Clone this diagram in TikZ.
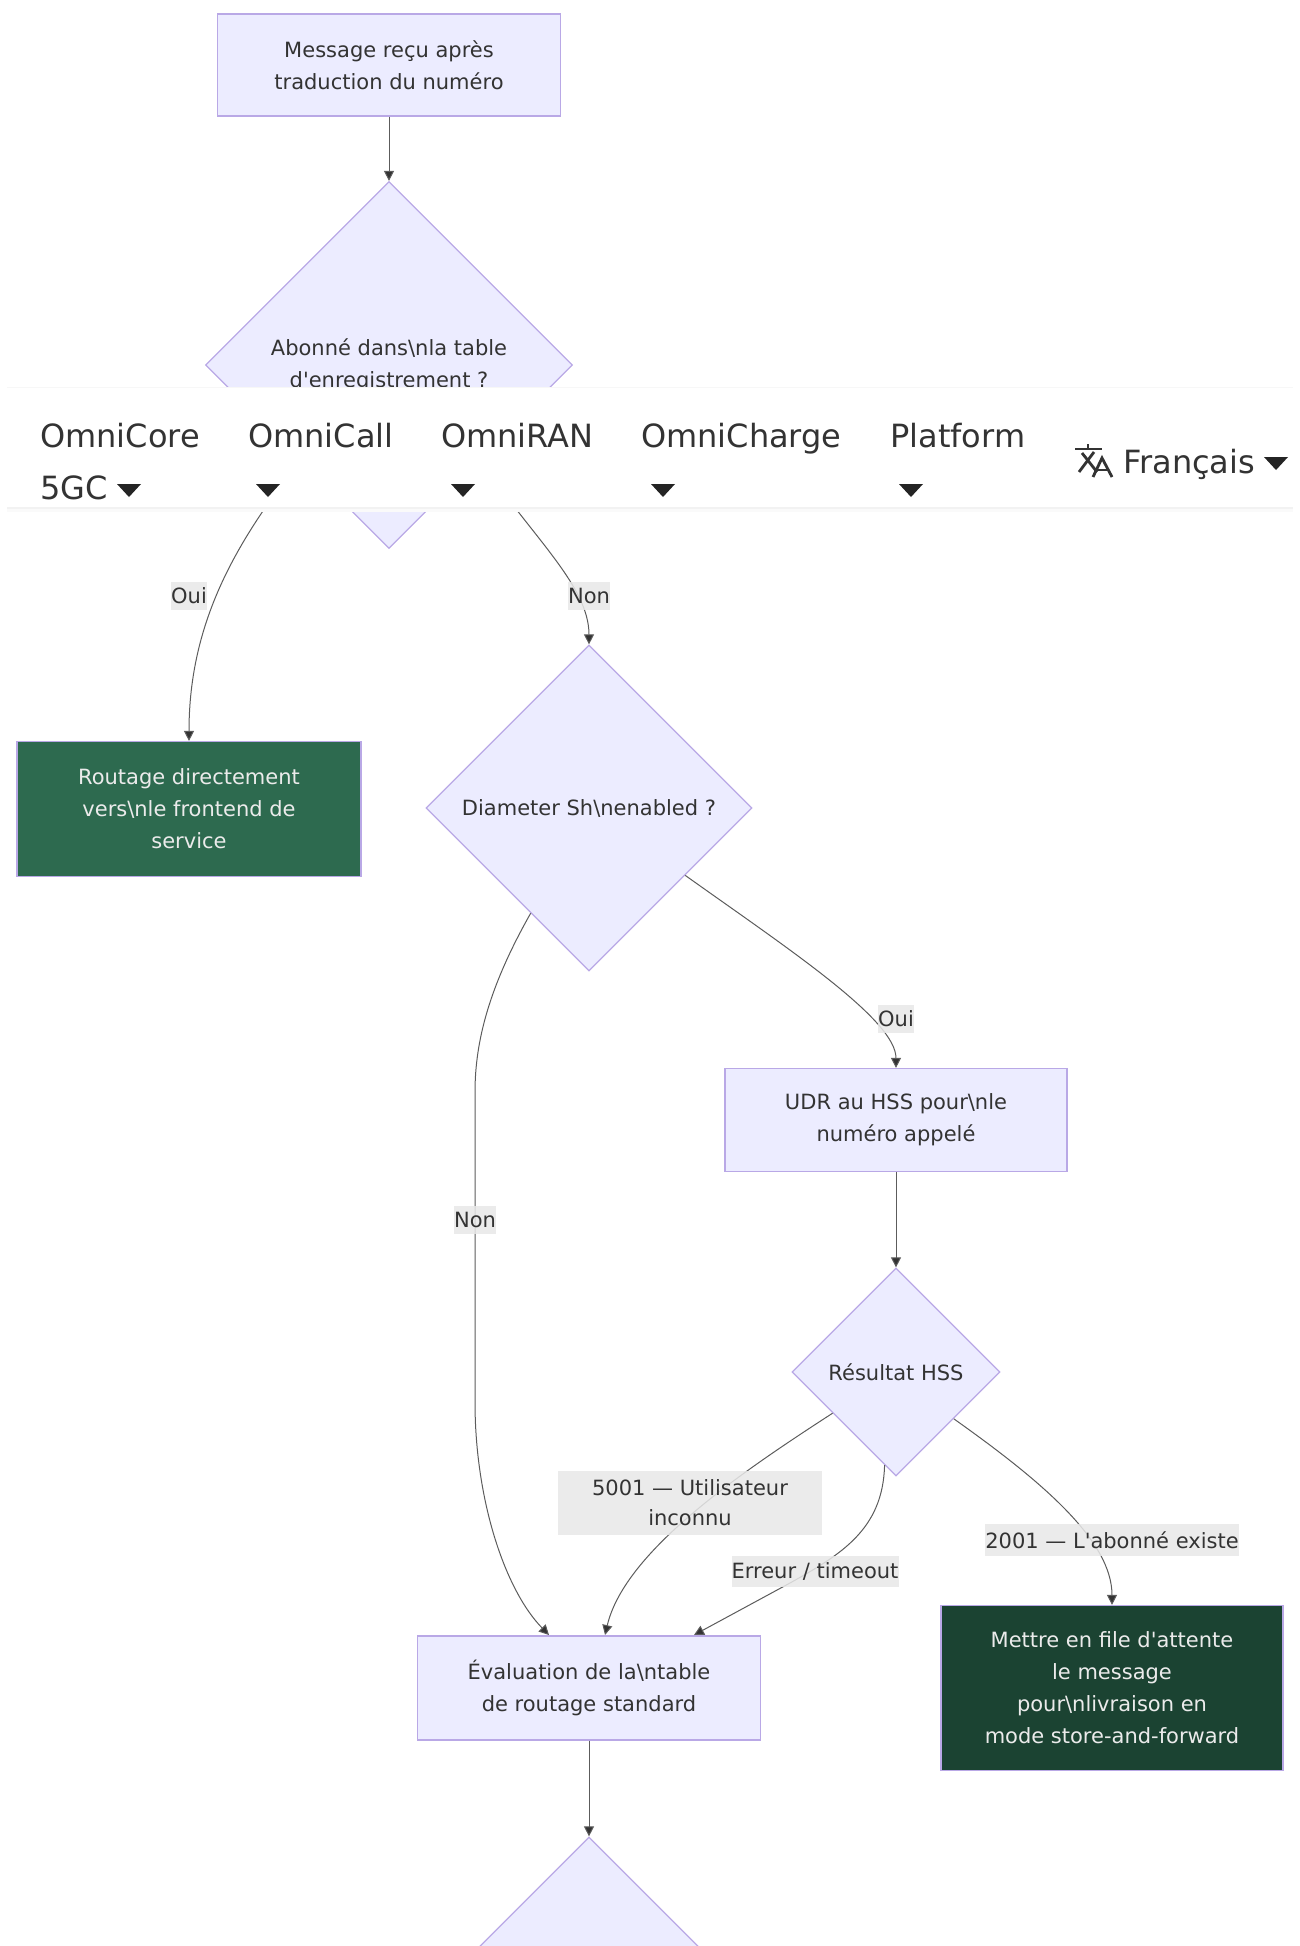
\documentclass[tikz,border=0pt]{standalone}
\usepackage{fontspec}
\setmainfont{DejaVu Sans}[Ligatures=TeXOff]
\usetikzlibrary{shapes.geometric,arrows.meta}
\definecolor{nodefill}{HTML}{ECECFF}
\definecolor{nodeline}{HTML}{B9A8E6}
\definecolor{edgeink}{HTML}{333333}
\definecolor{labelfill}{HTML}{E8E8E8}
\definecolor{routegreen}{HTML}{2D6A4F}
\definecolor{queuegreen}{HTML}{1B4332}
\tikzset{
  every node/.style={font=\fontsize{21}{32}\selectfont,text=edgeink,align=center},
  flowbox/.style={rectangle,draw=nodeline,fill=nodefill,line width=1.2pt,inner sep=0pt},
  flowdiamond/.style={diamond,aspect=1,draw=nodeline,fill=nodefill,line width=1.2pt,inner sep=0pt},
  darkbox/.style={flowbox,text=white!92!black},
  edge/.style={draw=edgeink!80,line width=1pt,-{Triangle[length=10pt,width=10pt,fill=edgeink]}},
  edgelabel/.style={fill=labelfill,fill opacity=.85,text opacity=1,inner sep=0pt},
  navitem/.style={font=\fontsize{32}{40}\selectfont,anchor=base west,inner sep=0pt},
  caret/.style={fill=edgeink!70!black},
  iconline/.style={draw=edgeink,line width=2.8pt}
}
\begin{document}
\begin{tikzpicture}[x=1pt,y=-1pt]
  \useasboundingbox (0,0) rectangle (1299,1946);

  \node[flowbox,minimum width=343pt,minimum height=102pt] (msg) at (389,65) {Message reçu après\\traduction du numéro};
  \node[flowdiamond,minimum width=367pt,minimum height=367pt] (subq) at (389,365) {Abonné dans\textbackslash nla table\\d'enregistrement ?};
  \node[flowbox,fill=routegreen,text=white!92!black,minimum width=344pt,minimum height=135pt] (route) at (189,809) {Routage directement\\vers\textbackslash nle frontend de\\service};
  \node[flowdiamond,minimum width=326pt,minimum height=326pt] (shq) at (589,808) {Diameter Sh\textbackslash nenabled ?};
  \node[flowbox,minimum width=342pt,minimum height=103pt] (udr) at (896,1120) {UDR au HSS pour\textbackslash nle\\numéro appelé};
  \node[flowdiamond,minimum width=208pt,minimum height=208pt] (hssq) at (896,1372) {Résultat HSS};
  \node[flowbox,minimum width=343pt,minimum height=104pt] (evalt) at (589,1688) {Évaluation de la\textbackslash ntable\\de routage standard};
  \node[darkbox,fill=queuegreen,minimum width=342pt,minimum height=165pt] (queue) at (1112,1688) {Mettre en file d'attente\\le message\\pour\textbackslash nlivraison en\\mode store-and-forward};
  \node[flowdiamond,minimum width=326pt,minimum height=326pt] (nextq) at (589,2000) {};

  \draw[edge] (msg) -- (subq);
  \draw[edge] (subq.227) .. controls (238,540) and (189,620) .. (route.north);
  \draw[edge] (subq.314) .. controls (530,535) and (589,585) .. (shq.north);
  \draw[edge] (shq.241) .. controls (490,985) and (475,1040) .. (475,1092) -- (475,1402) .. controls (475,1500) and (505,1590) .. (549,1635);
  \draw[edge] (shq.325) .. controls (790,950) and (896,1020) .. (udr.north);
  \draw[edge] (udr) -- (hssq);
  \draw[edge] (hssq.213) .. controls (745,1470) and (625,1550) .. (605,1635);
  \draw[edge] (hssq.263) .. controls (883,1530) and (840,1555) .. (790,1583) -- (694,1635);
  \draw[edge] (hssq.321) .. controls (1040,1480) and (1112,1540) .. (queue.north);
  \draw[edge] (evalt) -- (nextq);

  \node[edgelabel,minimum width=36pt,minimum height=28pt] (ouiroute) at (189,596) {Oui};
  \node[edgelabel,minimum width=42pt,minimum height=28pt] (nonsh) at (589,596) {Non};
  \node[edgelabel,minimum width=36pt,minimum height=28pt] (ouiudr) at (896,1019) {Oui};
  \node[edgelabel,minimum width=42pt,minimum height=28pt] (noneval) at (475,1220) {Non};
  \node[edgelabel,minimum width=264pt,minimum height=64pt,font=\fontsize{21}{30}\selectfont] (unknown) at (690,1503) {5001 — Utilisateur\\inconnu};
  \node[edgelabel,minimum width=167pt,minimum height=31pt] (timeout) at (815,1571) {Erreur / timeout};
  \node[edgelabel,minimum width=254pt,minimum height=32pt] (exists) at (1112,1540) {2001 — L'abonné existe};

  % barre de navigation
  \fill[black!2] (7,507) rectangle (1293,512);
  \fill[black!5] (7,507) rectangle (1293,509);
  \fill[white] (7,387) rectangle (1293,507);
  \draw[black!3] (7,387) -- (1293,387);

  \node[navitem] (core) at (40,447) {OmniCore};
  \node[navitem] (coreb) at (40,499) {5GC};
  \node[navitem] (call) at (248,447) {OmniCall};
  \node[navitem] (ran) at (441,447) {OmniRAN};
  \node[navitem] (charge) at (641,447) {OmniCharge};
  \node[navitem] (plat) at (890,447) {Platform};
  \node[navitem] (lang) at (1123,473) {Français};

  \foreach \cx/\cy in {129/490, 268/490, 463/490, 663/490, 911/490, 1276/463}
    \fill[caret] (\cx-12,\cy-6) -- (\cx+12,\cy-6) -- (\cx,\cy+7) -- cycle;

  % icone de langue
  \draw[iconline] (1075,449) -- (1102,449);
  \draw[iconline] (1088,444) -- (1088,449);
  \draw[iconline] (1082,453) -- (1097,472);
  \draw[iconline] (1094,452) -- (1079,472);
  \draw[iconline] (1093,477) -- (1102,458) -- (1112,477);
  \draw[iconline] (1096,470) -- (1108,470);
\end{tikzpicture}
\end{document}
